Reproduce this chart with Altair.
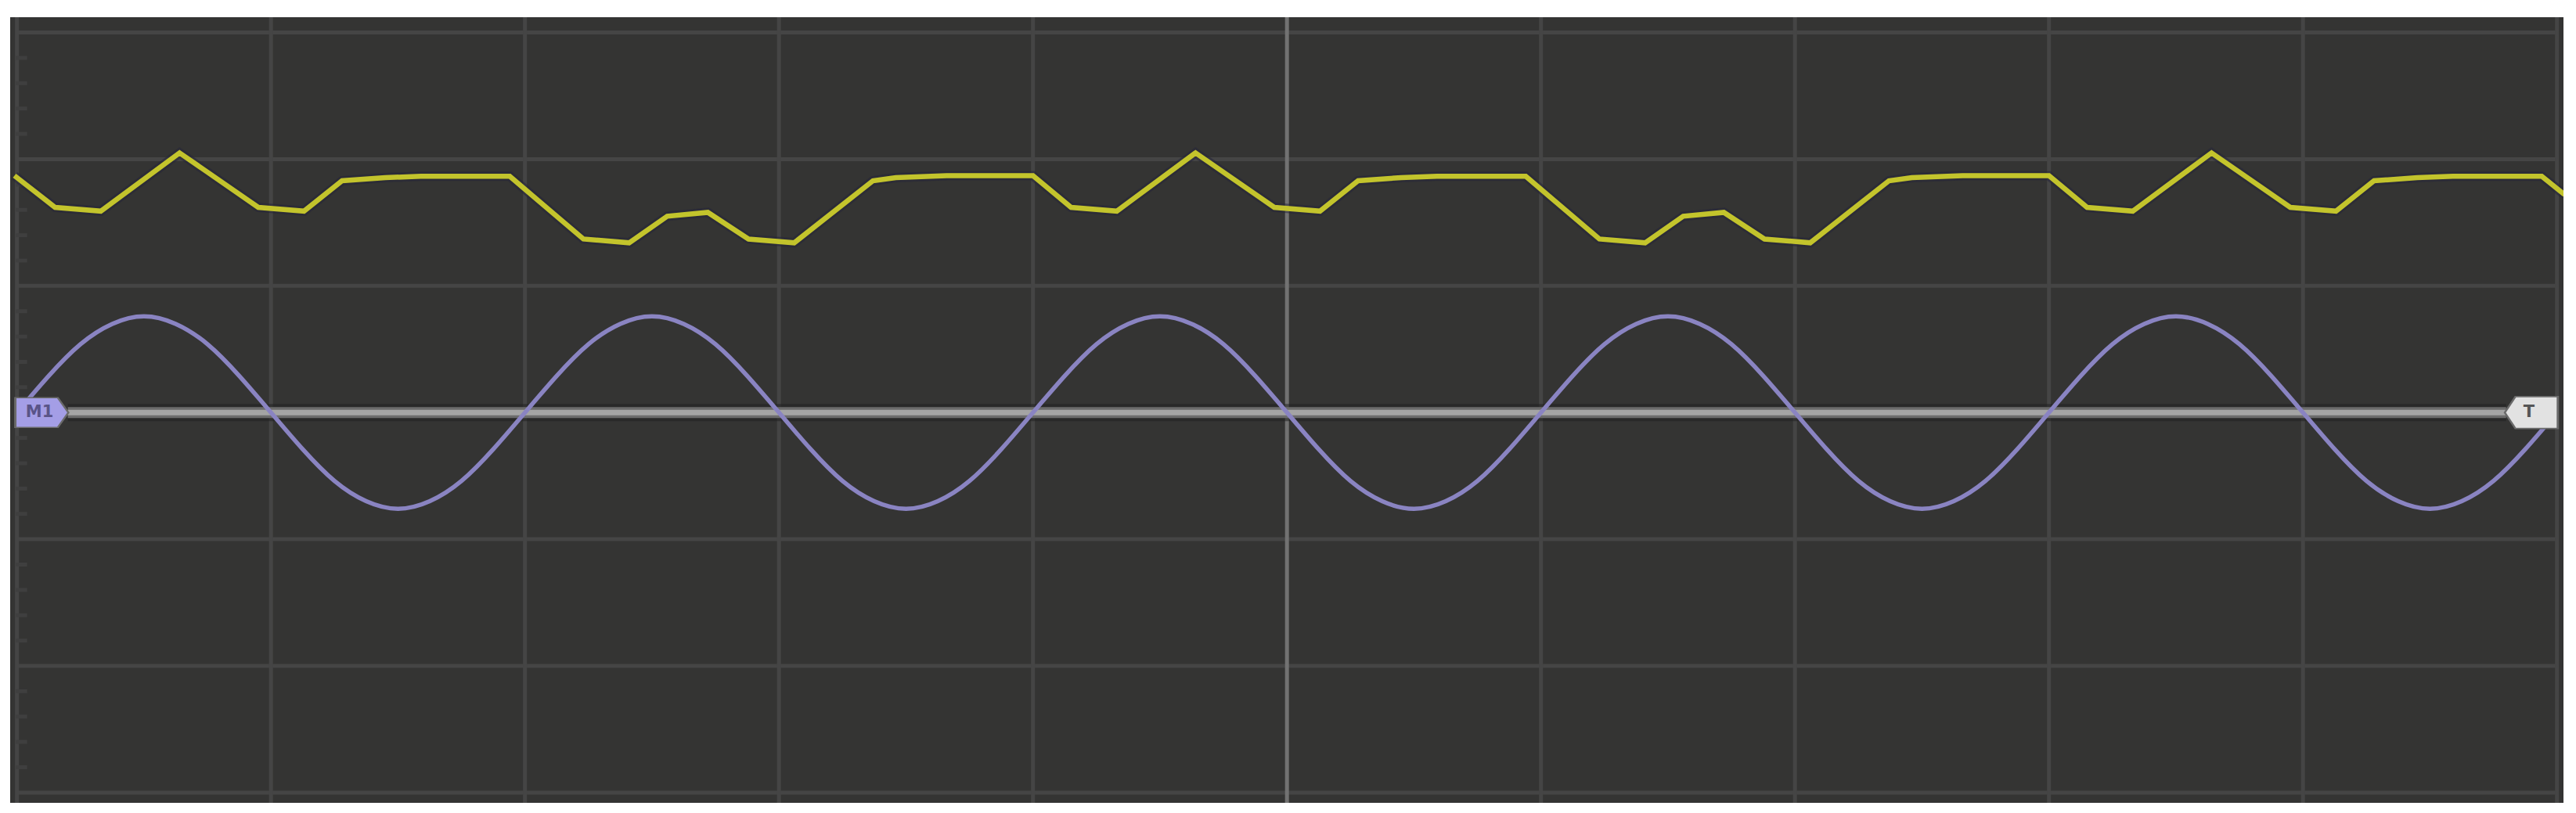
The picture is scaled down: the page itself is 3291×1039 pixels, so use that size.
import altair as alt
import pandas as pd

# ---------------- data (screen divisions) ----------------
# Channel 1 (yellow) trace vertices: time [div], level [div]
ch1_t = [-0.01, 0.15, 0.33, 0.64, 0.95, 1.13, 1.28, 1.45, 1.59, 1.94,
         2.23, 2.41, 2.56, 2.72, 2.88, 3.06, 3.37, 3.46, 3.66, 4.00,
         4.15, 4.33, 4.64, 4.95, 5.13, 5.28, 5.45, 5.59, 5.94,
         6.23, 6.41, 6.56, 6.72, 6.88, 7.06, 7.37, 7.46, 7.66, 8.00,
         8.15, 8.33, 8.64, 8.95, 9.13, 9.28, 9.45, 9.59, 9.94, 10.03]
ch1_v = [1.87, 1.62, 1.59, 2.05, 1.62, 1.59, 1.83, 1.855, 1.865, 1.865,
         1.37, 1.34, 1.55, 1.58, 1.37, 1.34, 1.83, 1.855, 1.87, 1.87,
         1.62, 1.59, 2.05, 1.62, 1.59, 1.83, 1.855, 1.865, 1.865,
         1.37, 1.34, 1.55, 1.58, 1.37, 1.34, 1.83, 1.855, 1.87, 1.87,
         1.62, 1.59, 2.05, 1.62, 1.59, 1.83, 1.855, 1.865, 1.865, 1.72]

# Channel 2 (purple) samples, every 0.125 div from 0 to 10
ch2_step = 0.125
ch2_v = [0.00, 0.29, 0.54, 0.70, 0.76, 0.70, 0.54, 0.29,
         0.00, -0.29, -0.54, -0.70, -0.76, -0.70, -0.54, -0.29,
         0.00, 0.29, 0.54, 0.70, 0.76, 0.70, 0.54, 0.29,
         0.00, -0.29, -0.54, -0.70, -0.76, -0.70, -0.54, -0.29,
         0.00, 0.29, 0.54, 0.70, 0.76, 0.70, 0.54, 0.29,
         0.00, -0.29, -0.54, -0.70, -0.76, -0.70, -0.54, -0.29,
         0.00, 0.29, 0.54, 0.70, 0.76, 0.70, 0.54, 0.29,
         0.00, -0.29, -0.54, -0.70, -0.76, -0.70, -0.54, -0.29,
         0.00, 0.29, 0.54, 0.70, 0.76, 0.70, 0.54, 0.29,
         0.00, -0.29, -0.54, -0.70, -0.76, -0.70, -0.54, -0.29,
         0.00]

# graticule
v_grid = [0, 1, 2, 3, 4, 6, 7, 8, 9, 10]
v_center = [5]
h_grid = [-3, -2, -1, 0, 1, 2, 3]
minor_ticks = [-2.8, -2.6, -2.4, -2.2, -1.8, -1.6, -1.4, -1.2, -0.8, -0.6, -0.4, -0.2,
               0.2, 0.4, 0.6, 0.8, 1.2, 1.4, 1.6, 1.8, 2.2, 2.4, 2.6, 2.8]

# markers
marker_x = [0.098, 9.899]
marker_label = ["M1", "T"]

X_DOM = [-0.0268, 10.0256]
Y_DOM = [-3.081, 3.121]

xs = alt.Scale(domain=X_DOM, nice=False, zero=False, padding=0)
ys = alt.Scale(domain=Y_DOM, nice=False, zero=False, padding=0)

W, H = 3262, 1004

df1 = pd.DataFrame({"t": ch1_t, "v": ch1_v})
df2 = pd.DataFrame({"t": [i * ch2_step for i in range(len(ch2_v))], "v": ch2_v})

vg = pd.DataFrame({"x": v_grid, "y": Y_DOM[0], "y2": Y_DOM[1]})
vc = pd.DataFrame({"x": v_center, "y": Y_DOM[0], "y2": Y_DOM[1]})
hg = pd.DataFrame({"y": h_grid, "x": 0, "x2": 10})
mt = pd.DataFrame({"y": minor_ticks, "x": -0.004, "x2": 0.04})
ref = pd.DataFrame({"x": [0.2], "x2": [9.8], "y": [0.0]})

X = lambda f="x": alt.X(f"{f}:Q", scale=xs, axis=None)
Y = lambda f="y": alt.Y(f"{f}:Q", scale=ys, axis=None)

hgrid = alt.Chart(hg).mark_rule(color="#454545", strokeWidth=5).encode(
    x=X(), x2="x2:Q", y=Y())
vgrid = alt.Chart(vg).mark_rule(color="#454545", strokeWidth=5).encode(
    x=X(), y=Y(), y2="y2:Q")
vcen = alt.Chart(vc).mark_rule(color="#727272", strokeWidth=5).encode(
    x=X(), y=Y(), y2="y2:Q")
minor = alt.Chart(mt).mark_rule(color="#3f3f3f", strokeWidth=5).encode(
    x=X(), x2="x2:Q", y=Y())

ref_dark = alt.Chart(ref).mark_rule(color="#202020", strokeWidth=22, opacity=0.55).encode(
    x=X(), x2="x2:Q", y=Y())
ref_mid = alt.Chart(ref).mark_rule(color="#6c6c6c", strokeWidth=14).encode(
    x=X(), x2="x2:Q", y=Y())
ref_light = alt.Chart(ref).mark_rule(color="#a4a4a4", strokeWidth=7).encode(
    x=X(), x2="x2:Q", y=Y())

ch2 = alt.Chart(df2).mark_line(color="#8a84c2", strokeWidth=5.5, interpolate="natural",
                               clip=True).encode(x=X("t"), y=Y("v"))

ch1_halo = alt.Chart(df1).mark_line(color="#23233a", strokeWidth=12, opacity=0.5,
                                    clip=True).encode(x=X("t"), y=Y("v"))
ch1 = alt.Chart(df1).mark_line(color="#c3c42c", strokeWidth=6.5, clip=True
                               ).encode(x=X("t"), y=Y("v"))

mk = pd.DataFrame({"x": marker_x, "y": [0.0, 0.0], "label": marker_label,
                   "shape": ["M-1,-0.56 L0.6,-0.56 L1,0 L0.6,0.56 L-1,0.56 Z",
                             "M1,-0.6 L-0.6,-0.6 L-1,0 L-0.6,0.6 L1,0.6 Z"],
                   "fill": ["#a49ee6", "#e2e2e2"], "tc": ["#5a5488", "#555555"]})

mk_out = alt.Chart(mk).mark_point(filled=True, size=5000, opacity=1).encode(
    x=X(), y=Y(),
    shape=alt.Shape("shape:N", scale=None),
    color=alt.value("#6a6a6a"))
mk_in = alt.Chart(mk).mark_point(filled=True, size=4200, opacity=1).encode(
    x=X(), y=Y(),
    shape=alt.Shape("shape:N", scale=None),
    color=alt.Color("fill:N", scale=None))
mk_txt = alt.Chart(mk).mark_text(fontSize=21, fontWeight="bold", font="DejaVu Sans",
                                 dx=-3, baseline="middle").encode(
    x=X(), y=Y(), text="label:N", color=alt.Color("tc:N", scale=None))

chart = alt.layer(
    hgrid, vgrid, vcen, minor, ref_dark, ref_mid, ref_light,
    ch2, ch1_halo, ch1, mk_out, mk_in, mk_txt
).properties(
    width=W, height=H,
    padding={"left": 5, "top": 11, "right": 8, "bottom": 8},
    background="white",
).configure_view(fill="#343433", stroke=None)

chart.save("out.html", embed_options={"renderer": "svg", "actions": False})
